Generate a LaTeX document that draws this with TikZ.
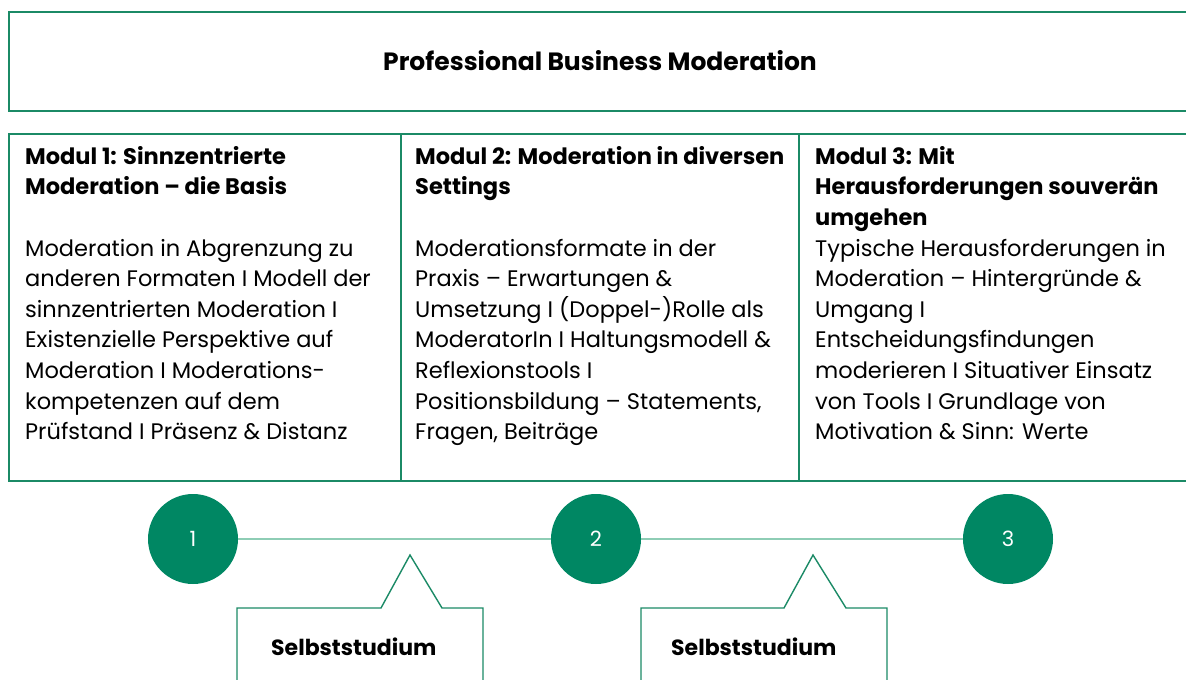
\documentclass[tikz,border=0pt]{standalone}
\usepackage{fontspec}
\setmainfont{Poppins}
\definecolor{gborder}{HTML}{1B8A66}
\definecolor{gfill}{HTML}{008763}
\definecolor{glight}{HTML}{8ECDB5}
\begin{document}
\begin{tikzpicture}[x=1pt,y=-1pt,
  box/.style={draw=gborder,line width=1.6pt},
  numc/.style={circle,fill=gfill,minimum size=90pt,inner sep=0pt,text=white,font=\fontsize{21}{24}\selectfont},
  modtext/.style={anchor=north west,align=left,inner sep=0pt,font=\fontsize{22.5}{30.6}\selectfont},
  callout/.style={draw=gborder,line width=1.4pt,fill=white},
  ctext/.style={anchor=west,inner sep=0pt,font=\fontsize{22}{26}\selectfont\bfseries}]
\useasboundingbox (0,0) rectangle (1186,680);
\begin{scope}
\clip (0,0) rectangle (1186,680);
\node[box,rectangle,minimum width=1192pt,minimum height=99pt,anchor=north west] (title) at (8,11) {};
\node[font=\fontsize{25}{28}\selectfont\bfseries] (titletext) at (600,61) {Professional Business Moderation};
\node[box,rectangle,minimum width=392pt,minimum height=347pt,anchor=north west] (m1) at (8,133) {};
\node[box,rectangle,minimum width=398pt,minimum height=347pt,anchor=north west] (m2) at (400,133) {};
\node[box,rectangle,minimum width=402pt,minimum height=347pt,anchor=north west] (m3) at (798,133) {};
\node[modtext] (t1) at (25,146) {\textbf{Modul 1: Sinnzentrierte}\\\textbf{Moderation – die Basis}\\[30.6pt]Moderation in Abgrenzung zu\\anderen Formaten I Modell der\\sinnzentrierten Moderation I\\Existenzielle Perspektive auf\\Moderation I Moderations-\\kompetenzen auf dem\\Prüfstand I Präsenz \& Distanz};
\node[modtext] (t2) at (415,146) {\textbf{Modul 2: Moderation in diversen}\\\textbf{Settings}\\[30.6pt]Moderationsformate in der\\Praxis – Erwartungen \&\\Umsetzung I (Doppel-)Rolle als\\ModeratorIn I Haltungsmodell \&\\Reflexionstools I\\Positionsbildung – Statements,\\Fragen, Beiträge};
\node[modtext] (t3) at (815,146) {\textbf{Modul 3: Mit}\\\textbf{Herausforderungen souverän}\\\textbf{umgehen}\\Typische Herausforderungen in\\Moderation – Hintergründe \&\\Umgang I\\Entscheidungsfindungen\\moderieren I Situativer Einsatz\\von Tools I Grundlage von\\Motivation \& Sinn: Werte};
\node[numc] (c1) at (193,539) {1};
\node[numc] (c2) at (596,539) {2};
\node[numc] (c3) at (1008,539) {3};
\draw[glight,line width=1.2pt] (c1.east) -- (c2.west);
\draw[glight,line width=1.2pt] (c2.east) -- (c3.west);
\coordinate (s1) at (410,555);
\coordinate (s2) at (813,555);
\draw[callout] (237,690) -- (237,608) -- (381,608) -- (s1) -- (442,608) -- (483,608) -- (483,690);
\draw[callout] (641,690) -- (641,608) -- (784,608) -- (s2) -- (846,608) -- (887,608) -- (887,690);
\node[ctext] (st1) at (271,647) {Selbststudium};
\node[ctext] (st2) at (671,647) {Selbststudium};
\end{scope}
\end{tikzpicture}
\end{document}
